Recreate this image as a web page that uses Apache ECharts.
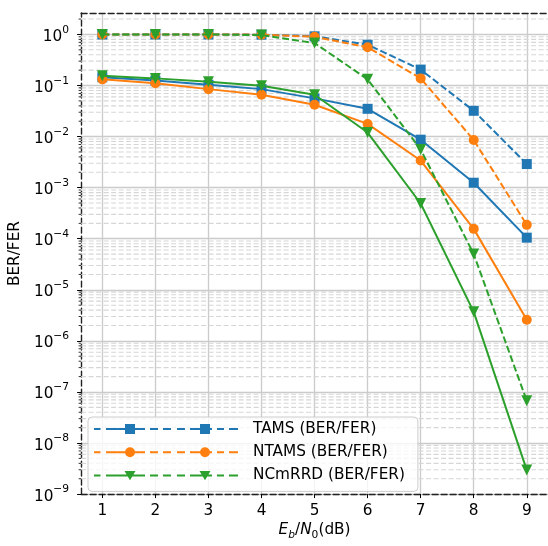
<!DOCTYPE html>
<html><head><meta charset="utf-8">
<script src="https://cdn.jsdelivr.net/npm/echarts@6/dist/echarts.min.js"></script>
<style>html,body{margin:0;padding:0;background:#fff}#c{width:548px;height:546px}</style>
</head><body><div id="c"></div>
<script>
// ---- data ----
const ebn0 = [1, 2, 3, 4, 5, 6, 7, 8, 9];
const tamsBER   = [0.145, 0.125, 0.103, 0.085, 0.056, 0.035, 0.0087, 0.00125, 0.000105];
const tamsFER   = [1.0, 1.0, 1.0, 0.99, 0.92, 0.63, 0.205, 0.032, 0.0029];
const ntamsBER  = [0.132, 0.111, 0.085, 0.066, 0.042, 0.0177, 0.0034, 0.000156, 0.0000026];
const ntamsFER  = [1.0, 1.0, 1.0, 0.99, 0.90, 0.56, 0.138, 0.0086, 0.000187];
const ncmrrdBER = [0.156, 0.138, 0.118, 0.099, 0.066, 0.012, 0.00049, 0.0000037, 2.95e-9];
const ncmrrdFER = [1.0, 1.0, 1.0, 0.97, 0.68, 0.132, 0.0056, 0.00005, 6.7e-8];
const xTicks = [1, 2, 3, 4, 5, 6, 7, 8, 9];
const yTicks = [1e-9, 1e-8, 1e-7, 1e-6, 1e-5, 1e-4, 1e-3, 1e-2, 1e-1, 1];
const legendNames = ['TAMS (BER/FER)', 'NTAMS (BER/FER)', 'NCmRRD (BER/FER)'];

// ---- layout / style ----
const X_MIN = 0.6, X_MAX = 9.4, Y_MIN = 1e-9, Y_MAX = 2.63;
const colors = ['#1f77b4', '#ff7f0e', '#2ca02c'];
const FONT = 'DejaVu Sans';
const FS = 15.3, FS_SMALL = 10.7;

// minor log grid positions (2..9 x 10^k)
const minorVals = [];
for (let k = -9; k <= 0; k++) for (let m = 2; m <= 9; m++) {
  const v = m * Math.pow(10, k);
  if (v < Y_MAX) minorVals.push(v);
}

// legend icon path (two markers on a dashed sample line)
function rectP(x0, y0, x1, y1) { return `M${x0} ${y0}L${x1} ${y0}L${x1} ${y1}L${x0} ${y1}Z`; }
const segs = [[0, 6.5], [12, 51], [56, 64], [69, 77], [83, 91], [96, 118], [123, 130], [135, 144]];
const lineP = segs.map(s => rectP(s[0], 4, s[1], 6)).join('');
const marks = [36, 111];
function sq(m) { return rectP(m - 5, 0, m + 5, 10); }
function ci(m) { return `M${m - 5} 5A5 5 0 1 1 ${m + 5} 5A5 5 0 1 1 ${m - 5} 5Z`; }
function tr(m) { return `M${m - 5.5} 0.5L${m + 5.5} 0.5L${m} 9.8Z`; }
const bound = 'M154 0L154.001 0L154.001 10L154 10Z';
const icons = [
  'path://' + lineP + marks.map(sq).join('') + bound,
  'path://' + lineP + marks.map(ci).join('') + bound,
  'path://' + lineP + marks.map(tr).join('') + bound
];

function mk(name, vals, color, symbol, size, rotate, dashed, z) {
  return {
    type: 'line', name: name,
    data: ebn0.map((x, i) => [x, vals[i]]),
    symbol: symbol, symbolSize: size, symbolRotate: rotate,
    lineStyle: { color: color, width: 2, type: dashed ? [7, 3] : 'solid' },
    itemStyle: { color: color, borderWidth: 0 },
    emphasis: { disabled: true },
    z: z, animation: false
  };
}

const spine = { show: true, lineStyle: { color: '#222', width: 1.4, type: [6, 3] } };

const option = {
  animation: false,
  grid: { left: 81, top: 13, width: 468, height: 486, containLabel: false },
  legend: {
    left: 88, top: 417, orient: 'vertical',
    padding: [4.5, 13, 8.5, 6],
    itemGap: 8.2, itemWidth: 154, itemHeight: 10,
    backgroundColor: 'rgba(255,255,255,0.8)', borderColor: '#cccccc', borderWidth: 1, borderRadius: 4,
    selectedMode: false,
    itemStyle: { borderWidth: 0 },
    textStyle: { fontFamily: FONT, fontSize: FS, color: '#000' },
    data: legendNames.map((n, i) => ({ name: n, icon: icons[i] }))
  },
  xAxis: [{
    type: 'value', min: X_MIN, max: X_MAX, position: 'bottom',
    axisLine: Object.assign({ onZero: false }, spine),
    axisTick: { show: true, customValues: xTicks, length: 4, lineStyle: { color: '#000', width: 1 } },
    axisLabel: { customValues: xTicks, margin: 9, fontFamily: FONT, fontSize: FS, color: '#000' },
    splitLine: { show: true, lineStyle: { color: '#cbcbcb', width: 1.3 } },
    name: '{i|E}{sb|b}{n|/}{i|N}{s0|0}{n|(dB)}',
    nameLocation: 'middle', nameGap: 26,
    nameTextStyle: {
      rich: {
        i: { fontFamily: FONT, fontSize: FS, fontStyle: 'italic', color: '#000', lineHeight: 18, verticalAlign: 'top' },
        n: { fontFamily: FONT, fontSize: FS, color: '#000', lineHeight: 18, verticalAlign: 'top' },
        sb: { fontFamily: FONT, fontSize: FS_SMALL, fontStyle: 'italic', color: '#000', lineHeight: 10, verticalAlign: 'bottom' },
        s0: { fontFamily: FONT, fontSize: FS_SMALL, color: '#000', lineHeight: 10, verticalAlign: 'bottom' }
      }
    }
  }, {
    type: 'value', min: X_MIN, max: X_MAX, position: 'top',
    axisLine: Object.assign({ onZero: false }, spine),
    axisTick: { show: false }, axisLabel: { show: false }, splitLine: { show: false }
  }],
  yAxis: {
    type: 'log', logBase: 10, min: Y_MIN, max: Y_MAX, splitNumber: 10,
    axisLine: Object.assign({ onZero: false }, spine),
    axisTick: { show: true, customValues: yTicks, length: 4, lineStyle: { color: '#000', width: 1 } },
    axisLabel: {
      customValues: yTicks, margin: 12,
      formatter: function (v) {
        const e = Math.round(Math.log10(v));
        return '{b|10}{s|' + (e < 0 ? '\u2212' + (-e) : String(e)) + '}';
      },
      rich: {
        b: { fontFamily: FONT, fontSize: FS, color: '#000', lineHeight: 20, verticalAlign: 'bottom' },
        s: { fontFamily: FONT, fontSize: FS_SMALL, color: '#000', lineHeight: 12, verticalAlign: 'top' }
      }
    },
    splitLine: { show: true, lineStyle: { color: '#cbcbcb', width: 1.3 } },
    minorTick: { show: false },
    name: 'BER/FER', nameLocation: 'middle', nameGap: 55,
    nameTextStyle: { fontFamily: FONT, fontSize: FS, color: '#000' }
  },
  series: [
    {
      type: 'custom', silent: true, z: 1, clip: false,
      data: minorVals.map(v => [X_MIN, v]),
      encode: { x: 0, y: 1 },
      renderItem: function (params, api) {
        const v = api.value(1);
        const a = api.coord([X_MIN, v]);
        const b = api.coord([X_MAX, v]);
        return {
          type: 'group', children: [
            { type: 'line', shape: { x1: a[0], y1: a[1], x2: b[0], y2: b[1] }, style: { stroke: '#d6d6d6', lineWidth: 1.1, lineDash: [5, 2.5] } },
            { type: 'line', shape: { x1: a[0] - 2.5, y1: a[1], x2: a[0], y2: a[1] }, style: { stroke: '#000', lineWidth: 0.8 } }
          ]
        };
      }
    },
    mk(legendNames[0], tamsBER, colors[0], 'rect', 10, 0, false, 3),
    mk(legendNames[0], tamsFER, colors[0], 'rect', 10, 0, true, 3),
    mk(legendNames[1], ntamsBER, colors[1], 'circle', 10, 0, false, 4),
    mk(legendNames[1], ntamsFER, colors[1], 'circle', 10, 0, true, 4),
    mk(legendNames[2], ncmrrdBER, colors[2], 'triangle', 11, 180, false, 5),
    mk(legendNames[2], ncmrrdFER, colors[2], 'triangle', 11, 180, true, 5)
  ]
};

const chart = echarts.init(document.getElementById('c'), null, { renderer: 'canvas' });
chart.setOption(option);
</script>
</body></html>
